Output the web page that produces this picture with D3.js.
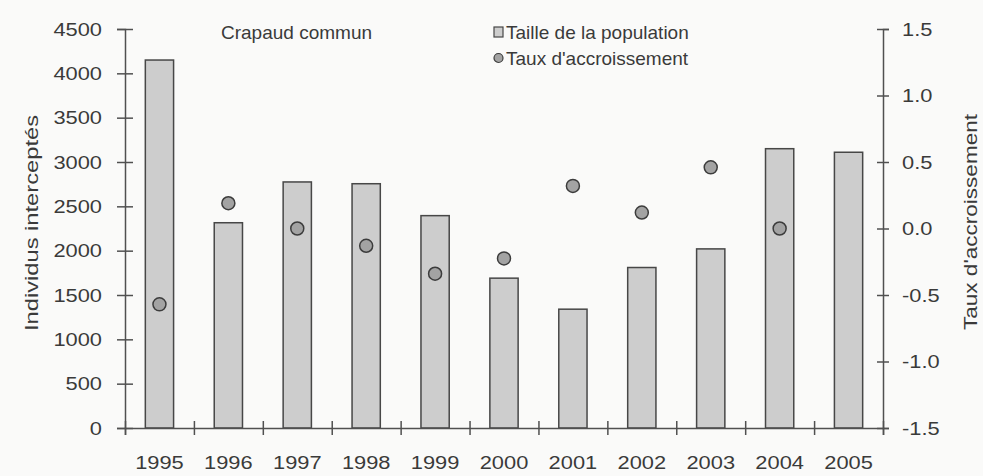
<!DOCTYPE html>
<html>
<head>
<meta charset="utf-8">
<script src="https://cdn.jsdelivr.net/npm/d3@7"></script>
<style>
  body { margin: 0; background: #fafaf9; }
  svg { display: block; font-family: "Liberation Sans", Arial, sans-serif; }
</style>
</head>
<body>
<svg width="983" height="476"></svg>
<script>
const years = ["1995","1996","1997","1998","1999","2000","2001","2002","2003","2004","2005"];
const population = [4150, 2315, 2775, 2755, 2395, 1690, 1340, 1810, 2020, 3150, 3110];
const growth = [-0.57, 0.19, 0.0, -0.13, -0.34, -0.225, 0.32, 0.12, 0.46, 0.0, null];
const popTicks = [0, 500, 1000, 1500, 2000, 2500, 3000, 3500, 4000, 4500];
const rateTicks = [-1.5, -1.0, -0.5, 0.0, 0.5, 1.0, 1.5];

const svg = d3.select("svg");
const width = +svg.attr("width");
const height = +svg.attr("height");

const plotLeft = 125, plotRight = 883, plotTop = 29, plotBottom = 428;
const textCol = "#3a3a3a";
const axisCol = "#505050";
const stretch = 1.15;

svg.append("rect")
  .attr("width", width).attr("height", height)
  .attr("fill", "#fafaf9");

const x = d3.scaleBand()
  .domain(years)
  .range([plotLeft, plotRight])
  .paddingInner(0.59)
  .paddingOuter(0.295);

const xLab = d3.scaleBand().domain(years).range([plotLeft, plotRight]);

const xEdge = d3.scaleLinear().domain([0, years.length]).range([plotLeft, plotRight]);

const y = d3.scaleLinear().domain([0, 4500]).range([plotBottom, plotTop]);
const y2 = d3.scaleLinear().domain([-1.5, 1.5]).range([plotBottom, plotTop]);

// bars
svg.append("g")
  .selectAll("rect")
  .data(years)
  .join("rect")
  .attr("x", d => x(d))
  .attr("width", x.bandwidth())
  .attr("y", (d, i) => y(population[i]))
  .attr("height", (d, i) => y(0) - y(population[i]))
  .attr("fill", "#cdcdcd")
  .attr("stroke", "#474747")
  .attr("stroke-width", 1.5);

// growth points
svg.append("g")
  .selectAll("circle")
  .data(years.filter((d, i) => growth[i] !== null))
  .join("circle")
  .attr("cx", d => xLab(d) + xLab.bandwidth() / 2)
  .attr("cy", d => y2(growth[years.indexOf(d)]))
  .attr("r", 6.5)
  .attr("fill", "#a3a3a3")
  .attr("stroke", "#3c3c3c")
  .attr("stroke-width", 1.5);

// left axis
const yAxis = svg.append("g")
  .attr("transform", `translate(${plotLeft},0)`)
  .call(d3.axisLeft(y).tickValues(popTicks).tickSize(8).tickPadding(0).tickFormat(d3.format("d")));
yAxis.selectAll(".tick line").attr("x1", 8);
yAxis.selectAll(".tick text")
  .attr("x", -23 / stretch)
  .attr("transform", `scale(${stretch},1)`);

// right axis
const y2Axis = svg.append("g")
  .attr("transform", `translate(${plotRight},0)`)
  .call(d3.axisRight(y2).tickValues(rateTicks).tickSize(6).tickFormat(d => d.toFixed(1)));
y2Axis.selectAll(".tick line").attr("x1", -6);
y2Axis.selectAll(".tick text")
  .attr("x", 19 / stretch)
  .attr("transform", `scale(${stretch},1)`);

// bottom axis: ticks at year boundaries
const xAxis = svg.append("g")
  .attr("transform", `translate(0,${plotBottom})`)
  .call(d3.axisBottom(xEdge).tickValues(d3.range(0, years.length + 1)).tickSize(7).tickFormat(""));
xAxis.selectAll(".tick line").attr("y1", -7);

const xLabels = svg.append("g")
  .attr("transform", `translate(0,${plotBottom})`)
  .call(d3.axisBottom(xLab).tickSize(0).tickPadding(0));
xLabels.select(".domain").remove();
xLabels.selectAll(".tick text")
  .attr("y", 41)
  .attr("dy", 0)
  .attr("transform", `scale(${stretch},1)`)
  .attr("x", 0);

svg.selectAll(".domain, .tick line")
  .attr("stroke", axisCol)
  .attr("stroke-width", 1.5);
svg.selectAll(".tick text")
  .attr("fill", textCol)
  .attr("font-size", 19)
  .attr("font-family", "Liberation Sans, Arial, sans-serif");

// axis titles
svg.append("text")
  .attr("transform", "translate(38,223) rotate(-90)")
  .attr("text-anchor", "middle")
  .attr("font-size", 19)
  .attr("fill", textCol)
  .attr("textLength", 216)
  .attr("lengthAdjust", "spacingAndGlyphs")
  .text("Individus interceptés");

svg.append("text")
  .attr("transform", "translate(977,222) rotate(-90)")
  .attr("text-anchor", "middle")
  .attr("font-size", 19)
  .attr("fill", textCol)
  .attr("textLength", 216)
  .attr("lengthAdjust", "spacingAndGlyphs")
  .text("Taux d'accroissement");

// chart title
svg.append("text")
  .attr("x", 221).attr("y", 39)
  .attr("font-size", 19)
  .attr("fill", textCol)
  .text("Crapaud commun");

// legend
const legend = svg.append("g").attr("transform", "translate(494,0)");
legend.append("rect")
  .attr("x", 0).attr("y", 27).attr("width", 9).attr("height", 10)
  .attr("fill", "#cdcdcd").attr("stroke", "#474747").attr("stroke-width", 1.2);
legend.append("text")
  .attr("x", 12).attr("y", 39)
  .attr("font-size", 19).attr("fill", textCol)
  .text("Taille de la population");
legend.append("circle")
  .attr("cx", 4.5).attr("cy", 58).attr("r", 4.5)
  .attr("fill", "#a3a3a3").attr("stroke", "#3c3c3c").attr("stroke-width", 1.2);
legend.append("text")
  .attr("x", 12).attr("y", 65)
  .attr("font-size", 19).attr("fill", textCol)
  .text("Taux d'accroissement");
</script>
</body>
</html>
